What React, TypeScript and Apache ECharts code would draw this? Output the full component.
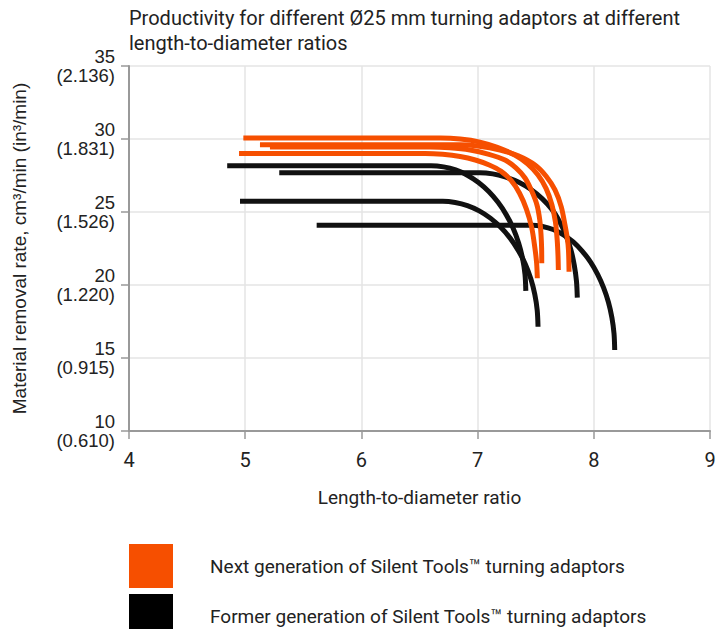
import React, { useEffect, useRef } from "react";
import * as echarts from "echarts";

// Axis ticks
const xTicks = [4, 5, 6, 7, 8, 9];
const yTicks = [10, 15, 20, 25, 30, 35];
const yTicksImperial = ["0.610", "0.915", "1.220", "1.526", "1.831", "2.136"];

const nextGenName = "Next generation of Silent Tools™ turning adaptors";
const formerGenName = "Former generation of Silent Tools™ turning adaptors";

// Next generation curves [L/D ratio, cm³/min]
const nextGenA: [number, number][] = [
  [4.984, 30.07], [6.45, 30.07], [6.68, 30.07], [6.85, 30.0], [7.02, 29.79], [7.17, 29.43],
  [7.32, 28.9], [7.43, 28.3], [7.52, 27.53], [7.59, 26.6], [7.64, 25.48], [7.67, 24.3],
  [7.685, 23.08], [7.692, 22.0], [7.695, 21.03],
];
const nextGenB: [number, number][] = [
  [5.127, 29.6], [6.6, 29.6], [6.85, 29.6], [7.0, 29.52], [7.193, 29.25], [7.35, 28.85],
  [7.494, 28.22], [7.59, 27.45], [7.666, 26.51], [7.72, 25.35], [7.752, 24.11],
  [7.772, 23.2], [7.782, 22.4], [7.787, 20.91],
];
const nextGenC: [number, number][] = [
  [5.213, 29.45], [6.4, 29.45], [6.59, 29.45], [6.76, 29.4], [6.935, 29.25], [7.09, 28.97],
  [7.236, 28.56], [7.33, 28.02], [7.408, 27.33], [7.465, 26.45], [7.511, 25.48],
  [7.535, 24.45], [7.546, 23.42], [7.551, 22.5], [7.552, 21.49],
];
const nextGenD: [number, number][] = [
  [4.947, 29.01], [6.35, 29.01], [6.55, 29.01], [6.7, 28.95], [6.85, 28.8], [6.98, 28.56],
  [7.1, 28.22], [7.2, 27.8], [7.29, 27.15], [7.36, 26.3], [7.42, 25.2], [7.465, 23.95],
  [7.492, 22.6], [7.508, 21.5], [7.514, 20.46],
];

// Former generation curves
const formerGenA: [number, number][] = [
  [4.845, 28.17], [6.4, 28.17], [6.6, 28.17], [6.707, 28.09], [6.811, 27.88], [6.912, 27.52],
  [7.008, 27.02], [7.096, 26.4], [7.176, 25.66], [7.246, 24.82], [7.306, 23.89],
  [7.353, 22.88], [7.387, 21.82], [7.408, 20.72], [7.415, 19.6],
];
const formerGenB: [number, number][] = [
  [5.293, 27.69], [6.82, 27.69], [7.02, 27.69], [7.13, 27.61], [7.237, 27.4], [7.355, 27.04],
  [7.46, 26.54], [7.555, 25.92], [7.64, 25.18], [7.705, 24.34], [7.76, 23.41],
  [7.803, 22.41], [7.832, 21.35], [7.851, 20.25], [7.858, 19.13],
];
const formerGenC: [number, number][] = [
  [4.955, 25.73], [6.5, 25.73], [6.7, 25.73], [6.807, 25.65], [6.912, 25.44], [7.014, 25.08],
  [7.11, 24.58], [7.199, 23.95], [7.28, 23.21], [7.35, 22.37], [7.41, 21.44],
  [7.458, 20.43], [7.492, 19.36], [7.513, 18.27], [7.52, 17.14],
];
const formerGenD: [number, number][] = [
  [5.615, 24.09], [7.27, 24.09], [7.465, 24.09], [7.559, 24.01], [7.65, 23.8], [7.739, 23.44],
  [7.823, 22.95], [7.9, 22.32], [7.971, 21.59], [8.032, 20.75], [8.084, 19.82],
  [8.126, 18.82], [8.156, 17.76], [8.174, 16.67], [8.18, 15.55],
];

const ORANGE = "#F64F00";
const BLACK = "#111111";
const SANS = "Roboto, sans-serif";
const ARIAL = "'Liberation Sans', Arial, sans-serif";

export default function App() {
  const ref = useRef<HTMLDivElement>(null);

  useEffect(() => {
    if (!ref.current) return;
    const chart = echarts.init(ref.current, undefined, { renderer: "svg" });

    const mk = (name: string, data: [number, number][], color: string) => ({
      name,
      type: "line",
      data,
      smooth: 0.3,
      symbol: "none",
      color,
      lineStyle: { color, width: 5, cap: "butt" },
      itemStyle: { color },
      silent: true,
    });

    chart.setOption({
      animation: false,
      title: {
        text: "Productivity for different Ø25 mm turning adaptors at different\nlength-to-diameter ratios",
        left: 124,
        top: 0,
        textStyle: {
          fontFamily: SANS,
          fontSize: 20,
          fontWeight: "normal",
          color: "#222",
          lineHeight: 25,
        },
      },
      legend: {
        orient: "vertical",
        left: 129,
        top: 544,
        height: 140,
        padding: 0,
        itemWidth: 44,
        itemHeight: 44,
        itemGap: 6,
        icon: "rect",
        selectedMode: false,
        textStyle: {
          fontFamily: SANS,
          fontSize: 19,
          color: "#222",
          padding: [6, 0, 0, 32],
        },
        data: [
          { name: nextGenName, itemStyle: { color: ORANGE, borderWidth: 0 } },
          { name: formerGenName, itemStyle: { color: "#000", borderWidth: 0 } },
        ],
      },
      grid: { left: 129, right: 18, top: 66, bottom: 206, containLabel: false },
      xAxis: {
        type: "value",
        min: xTicks[0],
        max: xTicks[xTicks.length - 1],
        interval: 1,
        name: "Length-to-diameter ratio",
        nameLocation: "middle",
        nameGap: 57,
        nameTextStyle: { fontFamily: SANS, fontSize: 19, color: "#222" },
        axisLine: { show: true, lineStyle: { color: "#999", width: 2 } },
        axisTick: { show: true, length: 8, lineStyle: { color: "#999", width: 1.5 } },
        axisLabel: { fontFamily: SANS, fontSize: 20, color: "#222", margin: 19 },
        splitLine: { show: true, lineStyle: { color: "#e4e4e4", width: 1.5 } },
      },
      yAxis: {
        type: "value",
        min: yTicks[0],
        max: yTicks[yTicks.length - 1],
        interval: 5,
        name: "Material removal rate, cm³/min (in³/min)",
        nameLocation: "middle",
        nameGap: 100,
        nameRotate: 90,
        nameTextStyle: { fontFamily: ARIAL, fontSize: 19, color: "#222" },
        axisLine: { show: true, lineStyle: { color: "#999", width: 2 } },
        axisTick: { show: true, length: 8, lineStyle: { color: "#999", width: 1.5 } },
        axisLabel: {
          fontFamily: ARIAL,
          fontSize: 18.5,
          lineHeight: 19,
          color: "#222",
          margin: 14,
          formatter: (v: number) => {
            const i = yTicks.indexOf(v);
            return `${v}\n(${yTicksImperial[i]})`;
          },
        },
        splitLine: { show: true, lineStyle: { color: "#e4e4e4", width: 1.5 } },
      },
      series: [
        mk(formerGenName, formerGenA, BLACK),
        mk(formerGenName, formerGenB, BLACK),
        mk(formerGenName, formerGenC, BLACK),
        mk(formerGenName, formerGenD, BLACK),
        mk(nextGenName, nextGenA, ORANGE),
        mk(nextGenName, nextGenB, ORANGE),
        mk(nextGenName, nextGenC, ORANGE),
        mk(nextGenName, nextGenD, ORANGE),
      ],
    });

    return () => chart.dispose();
  }, []);

  return <div ref={ref} style={{ width: 728, height: 637, margin: -8 }} />;
}
